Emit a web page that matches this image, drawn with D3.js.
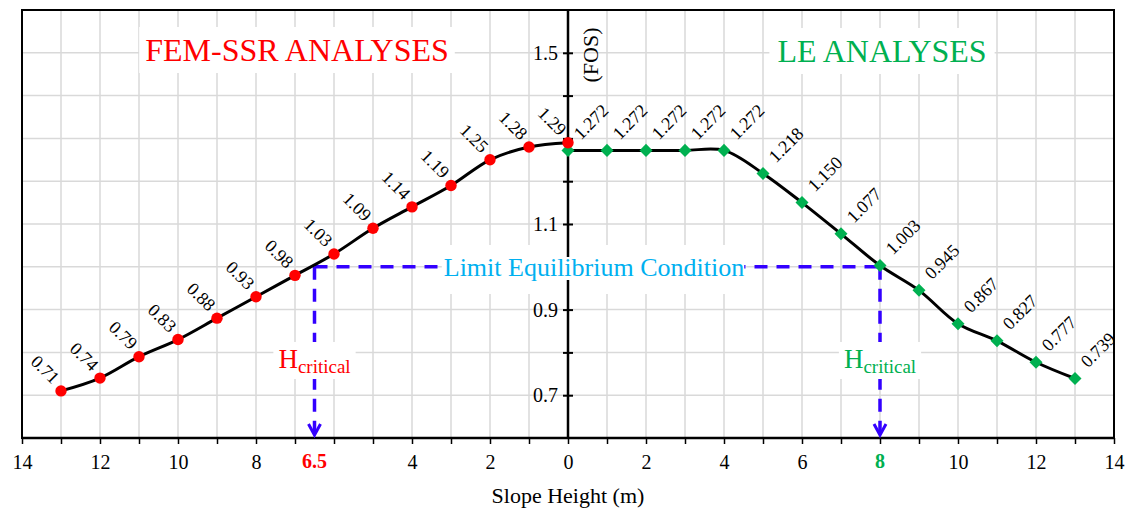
<!DOCTYPE html>
<html>
<head>
<meta charset="utf-8">
<script src="https://cdn.jsdelivr.net/npm/d3@7"></script>
<style>
  body { margin: 0; background: #fff; }
  svg { display: block; }
</style>
</head>
<body>
<svg id="chart" width="1129" height="509"></svg>
<script>
// slope heights (m) and factor of safety values
var fem_heights = [13, 12, 11, 10, 9, 8, 7, 6, 5, 4, 3, 2, 1, 0];
var fem_fos = [0.71, 0.74, 0.79, 0.83, 0.88, 0.93, 0.98, 1.03, 1.09, 1.14, 1.19, 1.25, 1.28, 1.29];
var fem_labels = ["0.71", "0.74", "0.79", "0.83", "0.88", "0.93", "0.98", "1.03", "1.09", "1.14", "1.19", "1.25", "1.28", "1.29"];

var le_heights = [0, 1, 2, 3, 4, 5, 6, 7, 8, 9, 10, 11, 12, 13];
var le_fos = [1.272, 1.272, 1.272, 1.272, 1.272, 1.218, 1.150, 1.077, 1.003, 0.945, 0.867, 0.827, 0.777, 0.739];
var le_labels = ["1.272", "1.272", "1.272", "1.272", "1.272", "1.218", "1.150", "1.077", "1.003", "0.945", "0.867", "0.827", "0.777", "0.739"];

var left_tick_labels = [14, 12, 10, 8, 4, 2, 0];
var right_tick_labels = [2, 4, 6, 10, 12, 14];
var y_tick_labels = [0.7, 0.9, 1.1, 1.5];

var fem_critical = 6.5;
var le_critical = 8;
var limit_fos = 1.0;

var red = "#ff0000";
var green = "#00b050";
var blue_dash = "#3300ff";
var cyan_text = "#00b0f0";
var font = "'Liberation Serif', 'Times New Roman', serif";

var svg = d3.select("#chart");

var plot_left = 22, plot_right = 1114, plot_top = 10, plot_bottom = 438;

// left side heights are drawn as negative x
var x = d3.scaleLinear().domain([-14, 14]).range([plot_left, plot_right]);
var y = d3.scaleLinear().domain([0.6, 1.6]).range([plot_bottom, plot_top]);

// grid
var grid = svg.append("g");
grid.selectAll(".vgrid")
    .data(d3.range(-13, 14))
    .enter().append("line")
    .attr("x1", d => x(d)).attr("x2", d => x(d))
    .attr("y1", plot_top).attr("y2", plot_bottom)
    .attr("stroke", "#d9d9d9").attr("stroke-width", 1.5);
grid.selectAll(".hgrid")
    .data(d3.range(7, 16).map(d => d / 10))
    .enter().append("line")
    .attr("x1", plot_left).attr("x2", plot_right)
    .attr("y1", d => y(d)).attr("y2", d => y(d))
    .attr("stroke", "#d9d9d9").attr("stroke-width", 1.5);

// white boxes behind text (cover the grid like in the original)
var bg_layer = svg.append("g");

// frame
svg.append("rect")
    .attr("x", plot_left).attr("y", plot_top)
    .attr("width", plot_right - plot_left).attr("height", plot_bottom - plot_top)
    .attr("fill", "none").attr("stroke", "#000").attr("stroke-width", 2);

// x axis
var x_axis = d3.axisBottom(x)
    .tickValues(d3.range(-14, 15))
    .tickSize(6)
    .tickFormat(function (d) {
        if (d <= 0 && left_tick_labels.indexOf(-d) >= 0) return Math.abs(d);
        if (d > 0 && right_tick_labels.indexOf(d) >= 0) return d;
        return "";
    });
var gx = svg.append("g")
    .attr("transform", "translate(0," + plot_bottom + ")")
    .call(x_axis);
gx.select(".domain").remove();
gx.selectAll(".tick line").attr("stroke", "#000").attr("stroke-width", 1.5);
gx.selectAll(".tick text")
    .attr("y", 17).attr("dy", "0.71em")
    .style("font-family", font).style("font-size", "20px").attr("fill", "#000");

svg.append("line")
    .attr("x1", plot_left).attr("x2", plot_right)
    .attr("y1", plot_bottom).attr("y2", plot_bottom)
    .attr("stroke", "#000").attr("stroke-width", 2.5);

// critical heights on the x axis
svg.append("text")
    .attr("x", x(-fem_critical)).attr("y", plot_bottom + 30)
    .attr("text-anchor", "middle")
    .style("font-family", font).style("font-size", "20px").style("font-weight", "bold")
    .attr("fill", red)
    .text(fem_critical);
svg.append("text")
    .attr("x", x(le_critical)).attr("y", plot_bottom + 30)
    .attr("text-anchor", "middle")
    .style("font-family", font).style("font-size", "20px").style("font-weight", "bold")
    .attr("fill", green)
    .text(le_critical);

svg.append("text")
    .attr("x", x(0)).attr("y", 503)
    .attr("text-anchor", "middle")
    .style("font-family", font).style("font-size", "22px")
    .text("Slope Height (m)");

// y axis through zero
var y_ticks = d3.range(7, 16).map(d => d / 10);
var gy = svg.append("g")
    .attr("transform", "translate(" + x(0) + ",0)")
    .call(d3.axisLeft(y).tickValues(y_ticks).tickSize(5)
        .tickFormat(d => y_tick_labels.some(v => Math.abs(v - d) < 1e-6) ? d3.format(".1f")(d) : ""));
gy.select(".domain").remove();
gy.selectAll(".tick line").attr("stroke", "#000").attr("stroke-width", 2);
gy.selectAll(".tick text")
    .attr("x", -10)
    .style("font-family", font).style("font-size", "20px").attr("fill", "#000");
var gy2 = svg.append("g")
    .attr("transform", "translate(" + x(0) + ",0)")
    .call(d3.axisRight(y).tickValues(y_ticks).tickSize(5).tickFormat(""));
gy2.select(".domain").remove();
gy2.selectAll(".tick line").attr("stroke", "#000").attr("stroke-width", 2);
svg.append("line")
    .attr("x1", x(0)).attr("x2", x(0))
    .attr("y1", plot_top).attr("y2", plot_bottom)
    .attr("stroke", "#000").attr("stroke-width", 2.5);

svg.append("text")
    .attr("transform", "translate(" + (x(0) + 30) + "," + 55 + ") rotate(-90)")
    .attr("text-anchor", "middle")
    .style("font-family", font).style("font-size", "22px")
    .text("(FOS)");

// helper: text with white box behind it
function boxed_text(tx, ty, str, size, color, pad_x, pad_y) {
    var t = svg.append("text")
        .attr("x", tx).attr("y", ty)
        .attr("text-anchor", "middle")
        .style("font-family", font).style("font-size", size)
        .attr("fill", color)
        .text(str);
    var b = t.node().getBBox();
    bg_layer.append("rect")
        .attr("x", b.x - pad_x).attr("y", b.y - pad_y)
        .attr("width", b.width + 2 * pad_x).attr("height", b.height + 2 * pad_y)
        .attr("fill", "#fff");
    return t;
}

boxed_text(297, 61, "FEM-SSR ANALYSES", "32px", red, 6, 5);
boxed_text(882, 62, "LE ANALYSES", "32px", green, 8, 5);

// limit equilibrium dashed lines
var dash_g = svg.append("g")
    .attr("stroke", blue_dash).attr("stroke-width", 3.5)
    .attr("stroke-dasharray", "13,9").attr("fill", "none");
dash_g.append("line")
    .attr("x1", x(-fem_critical)).attr("x2", x(le_critical))
    .attr("y1", y(limit_fos)).attr("y2", y(limit_fos));
[x(-fem_critical), x(le_critical)].forEach(function (px) {
    dash_g.append("line")
        .attr("x1", px).attr("x2", px)
        .attr("y1", y(limit_fos)).attr("y2", plot_bottom - 6);
    svg.append("path")
        .attr("d", "M" + (px - 6) + "," + (plot_bottom - 14) + " L" + px + "," + (plot_bottom - 3) + " L" + (px + 6) + "," + (plot_bottom - 14))
        .attr("fill", "none").attr("stroke", blue_dash).attr("stroke-width", 3);
});

// limit condition label, its box hides the dashes behind it
var lim_bg = svg.append("rect").attr("fill", "#fff");
var lim = svg.append("text")
    .attr("x", 594).attr("y", 276)
    .attr("text-anchor", "middle")
    .style("font-family", font).style("font-size", "26px")
    .attr("fill", cyan_text)
    .text("Limit Equilibrium Condition");
var lb = lim.node().getBBox();
lim_bg.attr("x", lb.x).attr("y", lb.y + 4)
    .attr("width", lb.width).attr("height", lb.height - 6);
bg_layer.append("rect")
    .attr("x", lb.x - 2).attr("y", lb.y - 8)
    .attr("width", lb.width + 4).attr("height", lb.height + 20)
    .attr("fill", "#fff");

// H critical labels
function h_critical(px, color) {
    var box = svg.append("rect").attr("fill", "#fff");
    var t = svg.append("text")
        .attr("x", px).attr("y", 368)
        .attr("text-anchor", "middle")
        .style("font-family", font).attr("fill", color);
    t.append("tspan").style("font-size", "27px").text("H");
    t.append("tspan").style("font-size", "19px").attr("dy", 5).text("critical");
    var b = t.node().getBBox();
    box.attr("x", b.x - 5).attr("y", b.y - 2)
        .attr("width", b.width + 10).attr("height", b.height + 4);
}
h_critical(x(-fem_critical), red);
h_critical(x(le_critical), green);

// curves
var line_gen = d3.line().curve(d3.curveCatmullRom.alpha(0.5));
svg.append("path")
    .attr("d", line_gen(fem_heights.map((h, i) => [x(-h), y(fem_fos[i])])))
    .attr("fill", "none").attr("stroke", "#000").attr("stroke-width", 3);
svg.append("path")
    .attr("d", line_gen(le_heights.map((h, i) => [x(h), y(le_fos[i])])))
    .attr("fill", "none").attr("stroke", "#000").attr("stroke-width", 3);

// markers
svg.selectAll(".le-pt")
    .data(le_heights)
    .enter().append("path")
    .attr("class", "le-pt")
    .attr("d", d3.symbol().type(d3.symbolSquare).size(85))
    .attr("transform", (h, i) => "translate(" + x(h) + "," + y(le_fos[i]) + ") rotate(45)")
    .attr("fill", green);
svg.selectAll(".fem-pt")
    .data(fem_heights)
    .enter().append("circle")
    .attr("class", "fem-pt")
    .attr("cx", h => x(-h))
    .attr("cy", (h, i) => y(fem_fos[i]))
    .attr("r", 5.7)
    .attr("fill", red);

// data labels
svg.selectAll(".fem-lbl")
    .data(fem_heights)
    .enter().append("text")
    .attr("class", "fem-lbl")
    .attr("transform", (h, i) => "translate(" + (x(-h) - 9) + "," + (y(fem_fos[i]) - 6) + ") rotate(45)")
    .attr("text-anchor", "end")
    .style("font-family", font).style("font-size", "18px")
    .text((h, i) => fem_labels[i]);
svg.selectAll(".le-lbl")
    .data(le_heights)
    .enter().append("text")
    .attr("class", "le-lbl")
    .attr("transform", (h, i) => "translate(" + (x(h) + 13) + "," + (y(le_fos[i]) - 10) + ") rotate(-45)")
    .attr("text-anchor", "start")
    .style("font-family", font).style("font-size", "18px")
    .text((h, i) => le_labels[i]);
</script>
</body>
</html>
